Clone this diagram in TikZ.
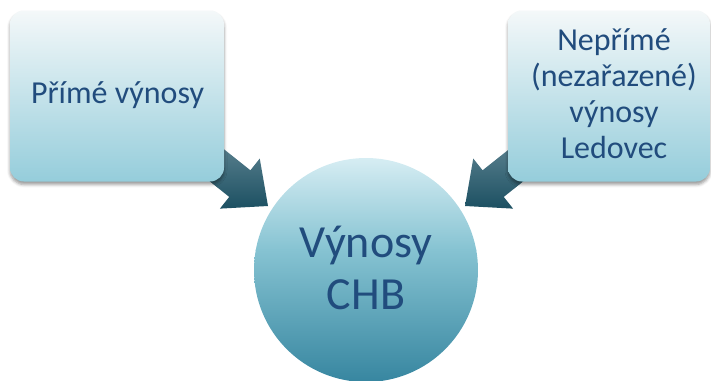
\documentclass[tikz,border=0pt]{standalone}
\usepackage{fontspec}
\setmainfont{Carlito}
\usetikzlibrary{shadows.blur}

\definecolor{txtblue}{HTML}{214C7D}
\definecolor{boxtop}{HTML}{F4F8F9}
\definecolor{boxbot}{HTML}{95CDDB}
\definecolor{circtop}{HTML}{D6EDF3}
\definecolor{circmid}{HTML}{86C3D2}
\definecolor{circbot}{HTML}{3786A0}
\definecolor{arrtop}{HTML}{6D8F9C}
\definecolor{arrbot}{HTML}{1C5062}

\tikzset{
  srcbox/.style={rectangle, rounded corners=14pt, minimum width=#1,
    minimum height=171pt, inner sep=0pt, top color=boxtop, bottom color=boxbot,
    draw=none,
    blur shadow={shadow xshift=0pt, shadow yshift=-3pt, shadow opacity=40,
      shadow blur radius=3pt}},
  boxtext/.style={text=txtblue, align=center, inner sep=0pt,
    font=\fontsize{32}{36}\selectfont},
  hub/.style={circle, minimum size=224pt, inner sep=0pt,
    draw=none, text=txtblue, align=center,
    font=\fontsize{46}{52}\selectfont},
  blockarrow/.style={top color=arrtop, bottom color=arrbot, draw=none},
}

\begin{document}
\begin{tikzpicture}[x=1pt, y=-1pt]
  \useasboundingbox (0,0) rectangle (711,380);

  % block arrow outlines, built in a frame with the tip at the origin
  \begin{scope}[shift={(268,206)}, rotate=-38.5]
    \coordinate (l1) at (0,0);
    \coordinate (l2) at (-36,32);
    \coordinate (l3) at (-36,17);
    \coordinate (l4) at (-110,17);
    \coordinate (l5) at (-110,-17);
    \coordinate (l6) at (-36,-17);
    \coordinate (l7) at (-36,-32);
  \end{scope}
  \begin{scope}[shift={(465,206)}, rotate=-141.5]
    \coordinate (r1) at (0,0);
    \coordinate (r2) at (-36,32);
    \coordinate (r3) at (-36,17);
    \coordinate (r4) at (-110,17);
    \coordinate (r5) at (-110,-17);
    \coordinate (r6) at (-36,-17);
    \coordinate (r7) at (-36,-32);
  \end{scope}
  \shade[blockarrow] (l1) -- (l2) -- (l3) -- (l4) -- (l5) -- (l6) -- (l7) -- cycle;
  \shade[blockarrow] (r1) -- (r2) -- (r3) -- (r4) -- (r5) -- (r6) -- (r7) -- cycle;

  % source boxes and their labels
  \node[srcbox=214pt] (direct) at (117,96) {};
  \node[boxtext] (directtext) at (117.5,95) {Přímé výnosy};
  \node[srcbox=202pt] (indirect) at (609,96) {};
  \node[boxtext] (indirecttext) at (614,94)
    {Nepřímé\\(nezařazené)\\výnosy\\Ledovec};

  % central circle with a three-stop vertical gradient
  \node[hub] (total) at (366,270) {};
  \begin{scope}
    \clip (total.center) circle (112);
    \shade[top color=circtop, bottom color=circmid]
      (254,158) rectangle (478,250);
    \shade[top color=circmid, bottom color=circbot]
      (254,249.5) rectangle (478,382);
  \end{scope}
  \node[hub] (totaltext) at (366,268) {Výnosy\\CHB};
\end{tikzpicture}
\end{document}
